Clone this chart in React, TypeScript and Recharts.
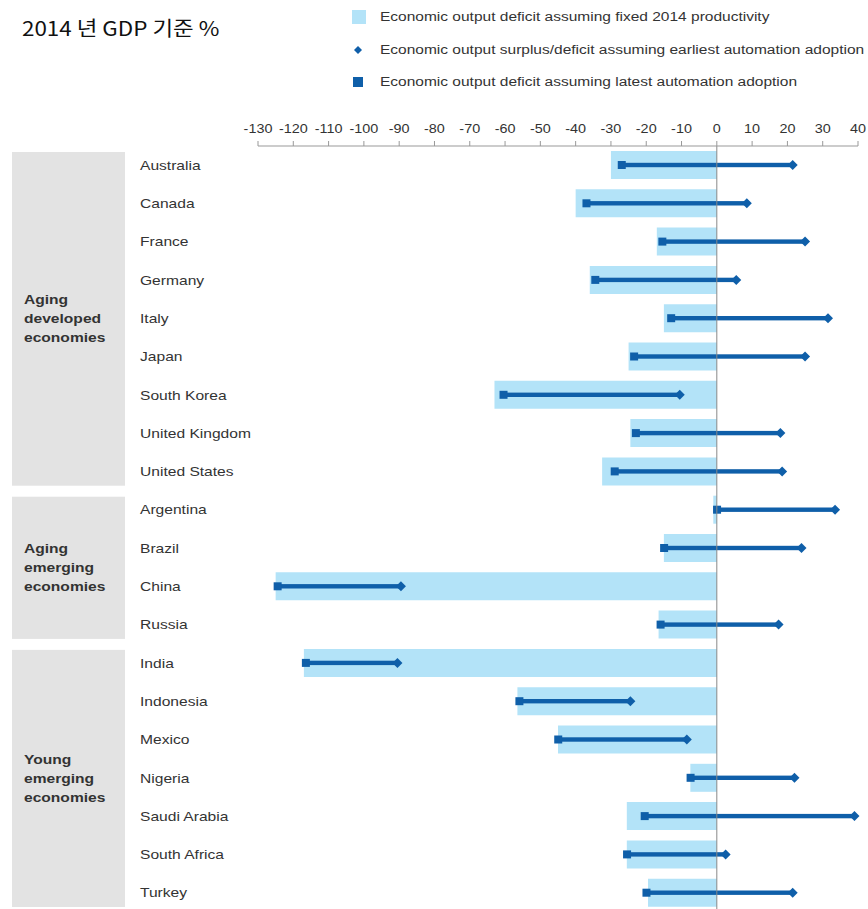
import React from "react";
import { ComposedChart, Bar, XAxis, YAxis, ReferenceLine } from "recharts";

// Share of 2014 GDP, per economy
const COUNTRIES = [
  "Australia", "Canada", "France", "Germany", "Italy", "Japan", "South Korea",
  "United Kingdom", "United States",
  "Argentina", "Brazil", "China", "Russia",
  "India", "Indonesia", "Mexico", "Nigeria", "Saudi Arabia", "South Africa", "Turkey",
];
const FIXED_DEFICIT = [-30, -40, -17, -36, -15, -25, -63, -24.5, -32.5, -1, -15, -125, -16.5, -117, -56.5, -45, -7.5, -25.5, -25.5, -19.5];
const LATEST_ADOPTION = [-27.5, -37.5, -16, -35, -13.5, -24, -61, -23.5, -29.5, -0.5, -15.5, -125, -16.5, -117, -56.5, -45.5, -8, -21, -26, -20.5];
const EARLIEST_ADOPTION = [21.5, 8.5, 25, 5.5, 31.5, 25, -10.5, 18, 18.5, 33.5, 24, -89.5, 17.5, -90.5, -24.5, -8.5, 22, 39, 2.5, 21.5];
const X_TICKS = [-130, -120, -110, -100, -90, -80, -70, -60, -50, -40, -30, -20, -10, 0, 10, 20, 30, 40];

const GROUPS = [
  { lines: ["Aging", "developed", "economies"], first: "Australia", count: 9 },
  { lines: ["Aging", "emerging", "economies"], first: "Argentina", count: 4 },
  { lines: ["Young", "emerging", "economies"], first: "India", count: 7 },
];

const LIGHT = "#b3e3f8";
const DARK = "#0f5fa9";
const FONT = "'Liberation Sans', Arial, sans-serif";
const SX = 1.2; // text is set a little wide

const data = COUNTRIES.map((name, i) => ({
  name,
  fixed: FIXED_DEFICIT[i],
  range: [LATEST_ADOPTION[i], EARLIEST_ADOPTION[i]],
}));

const CHART_W = 868;
const CHART_H = 915;
const X_AXIS_H = 30;
const MARGIN = { top: 116, right: 10, bottom: 3, left: 0 };
const BAND = (CHART_H - MARGIN.top - X_AXIS_H - MARGIN.bottom) / COUNTRIES.length;

const WideText = ({ x, y, children, anchor = "start", ...rest }: any) => (
  <text transform={`translate(${x},${y}) scale(${SX},1)`} textAnchor={anchor} dy="0.35em" fontFamily={FONT} {...rest}>
    {children}
  </text>
);

// country name, plus the grey group panel drawn by the first row of each group
const CountryTick = (props: any) => {
  const { y, payload } = props;
  const group = GROUPS.find((g) => g.first === payload.value);
  let panel = null;
  if (group) {
    const top = y - BAND / 2 + 6;
    const h = group.count * BAND - 11;
    const mid = top + h / 2;
    panel = (
      <g>
        <rect x={12} y={top} width={113} height={h} fill="#e3e3e3" />
        {group.lines.map((t, k) => (
          <WideText key={t + k} x={24} y={mid + (k - 1) * 19} fontSize={13} fontWeight="bold" fill="#333">{t}</WideText>
        ))}
      </g>
    );
  }
  return (
    <g>
      {panel}
      <WideText x={140} y={y} fontSize={13} fill="#333">{payload.value}</WideText>
    </g>
  );
};

const ValueTick = (props: any) => {
  const { x, y, payload } = props;
  return <WideText x={x} y={y - 10} anchor="middle" fontSize={12} fill="#333">{payload.value}</WideText>;
};

// thick line from latest adoption (square) to earliest adoption (diamond)
const RangeShape = (props: any) => {
  const { x, y, width, height } = props;
  const cy = y + height / 2;
  const x2 = x + width;
  return (
    <g>
      <rect x={x} y={cy - 2.2} width={width} height={4.4} fill={DARK} />
      <rect x={x - 2} y={cy - 4} width={8} height={8} fill={DARK} />
      <polygon points={`${x2 - 5},${cy} ${x2},${cy - 5} ${x2 + 5},${cy} ${x2},${cy + 5}`} fill={DARK} />
    </g>
  );
};

const LEGEND_ITEMS = [
  { label: "Economic output deficit assuming fixed 2014 productivity", kind: "box" },
  { label: "Economic output surplus/deficit assuming earliest automation adoption", kind: "diamond" },
  { label: "Economic output deficit assuming latest automation adoption", kind: "square" },
];

const ChartLegend = () => (
  <div style={{ position: "absolute", left: 350, top: 1, fontFamily: FONT, fontSize: 12.5, color: "#333" }}>
    {LEGEND_ITEMS.map((it) => (
      <div key={it.label} style={{ display: "flex", alignItems: "center", height: 32.5, whiteSpace: "nowrap" }}>
        <svg width={30} height={16}>
          {it.kind === "box" && <rect x={2} y={1} width={14} height={14} fill={LIGHT} />}
          {it.kind === "diamond" && <polygon points="4,8 8,4 12,8 8,12" fill={DARK} />}
          {it.kind === "square" && <rect x={3} y={3} width={10} height={10} fill={DARK} />}
        </svg>
        <span style={{ display: "inline-block", transform: "scaleX(1.24)", transformOrigin: "left center" }}>{it.label}</span>
      </div>
    ))}
  </div>
);

export default function App() {
  return (
    <div style={{ position: "absolute", left: 0, top: 0, width: CHART_W, height: 909, overflow: "hidden", background: "#fff" }}>
      <div style={{ position: "absolute", left: 22, top: 13, fontSize: 20, color: "#111", fontFamily: "'Noto Sans CJK KR', sans-serif",
        transform: "scaleX(1.12)", transformOrigin: "left center", whiteSpace: "nowrap" }}>
        2014 년 GDP 기준 %
      </div>
      <ChartLegend />
      <ComposedChart width={CHART_W} height={CHART_H} data={data} layout="vertical" margin={MARGIN}>
        <XAxis
          type="number"
          orientation="top"
          height={X_AXIS_H}
          domain={[-130, 40]}
          ticks={X_TICKS}
          interval={0}
          axisLine={{ stroke: "#999" }}
          tickLine={{ stroke: "#999" }}
          tickSize={5}
          tick={<ValueTick />}
        />
        <YAxis
          yAxisId="cat"
          type="category"
          dataKey="name"
          width={258}
          axisLine={false}
          tickLine={false}
          tick={<CountryTick />}
          interval={0}
        />
        <YAxis yAxisId="line" type="category" dataKey="name" hide />
        <Bar yAxisId="cat" dataKey="fixed" fill={LIGHT} barSize={28} isAnimationActive={false} />
        <ReferenceLine yAxisId="cat" x={0} stroke="#888" strokeWidth={1} />
        <Bar yAxisId="line" dataKey="range" barSize={10} shape={<RangeShape />} isAnimationActive={false} />
      </ComposedChart>
    </div>
  );
}
